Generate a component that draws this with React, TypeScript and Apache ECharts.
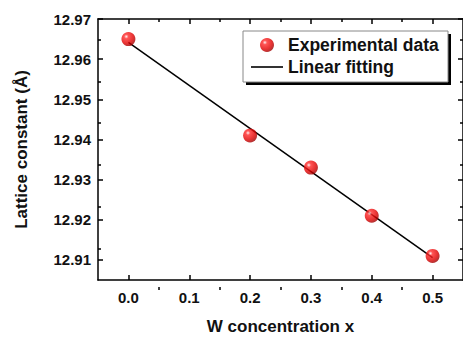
import React, { useEffect, useRef } from "react";
import * as echarts from "echarts";

// Measured lattice constants vs. W concentration
const concentration = [0.0, 0.2, 0.3, 0.4, 0.5];
const latticeConstant = [12.965, 12.941, 12.933, 12.921, 12.911];

// End points of the linear fit
const fitX = [0.0, 0.5];
const fitY = [12.9642, 12.9106];

// Tick positions
const xMajorTicks = [0.0, 0.1, 0.2, 0.3, 0.4, 0.5];
const xMinorTicks = [0.05, 0.15, 0.25, 0.35, 0.45];
const yMajorTicks = [12.91, 12.92, 12.93, 12.94, 12.95, 12.96, 12.97];
const yMinorTicks = [12.915, 12.925, 12.935, 12.945, 12.955, 12.965];

const FONT = "'Liberation Sans', Arial, Helvetica, sans-serif";
const X_MIN = -0.05;
const X_MAX = 0.55;
const Y_MIN = 12.905;
const Y_MAX = 12.97;

const sphere = new echarts.graphic.RadialGradient(0.35, 0.32, 0.7, [
  { offset: 0, color: "#fff0f0" },
  { offset: 0.22, color: "#ff2a2a" },
  { offset: 0.7, color: "#e00000" },
  { offset: 1, color: "#a00000" },
]);

export default function App() {
  const ref = useRef<HTMLDivElement>(null);

  useEffect(() => {
    if (!ref.current) return;
    const chart = echarts.init(ref.current, null, { renderer: "svg" });

    const lineOn = { show: true, onZero: false, lineStyle: { color: "#000", width: 1.5 } };
    const lineOff = { show: false, onZero: false };
    const gridRect = { left: 98, right: -2, top: 19, bottom: 50 };

    // "top"/"right" are set explicitly; bottom and left are the defaults
    const xAxis = (grid: number, top: boolean, ticks: number[], len: number, labels: boolean, line: boolean) => {
      const a: any = {
        type: "value",
        gridIndex: grid,
        min: X_MIN,
        max: X_MAX,
        splitLine: { show: false },
        axisLine: line ? lineOn : lineOff,
        axisTick: { show: true, inside: true, length: len, customValues: ticks, lineStyle: { color: "#000", width: 1.5 } },
        axisLabel: labels
          ? {
              show: true,
              customValues: ticks,
              formatter: (v: number) => v.toFixed(1),
              fontFamily: FONT,
              fontWeight: "bold",
              fontSize: 15,
              color: "#111",
              margin: 10,
            }
          : { show: false },
      };
      if (top) a.position = "top";
      return a;
    };

    const yAxis = (grid: number, right: boolean, ticks: number[], len: number, labels: boolean, line: boolean) => {
      const a: any = {
        type: "value",
        gridIndex: grid,
        min: Y_MIN,
        max: Y_MAX,
        splitLine: { show: false },
        axisLine: line ? lineOn : lineOff,
        axisTick: { show: true, inside: true, length: len, customValues: ticks, lineStyle: { color: "#000", width: 1.5 } },
        axisLabel: labels
          ? {
              show: true,
              customValues: ticks,
              formatter: (v: number) => v.toFixed(2),
              fontFamily: FONT,
              fontWeight: "bold",
              fontSize: 15,
              color: "#111",
              margin: 7,
            }
          : { show: false },
      };
      if (right) a.position = "right";
      return a;
    };

    const nameStyle = { fontFamily: FONT, fontWeight: "bold", fontSize: 17, color: "#111" };

    const xMain = xAxis(0, false, xMajorTicks, 5, true, true);
    xMain.name = "W concentration x";
    xMain.nameLocation = "middle";
    xMain.nameGap = 38;
    xMain.nameTextStyle = nameStyle;

    const yMain = yAxis(0, false, yMajorTicks, 5, true, true);
    yMain.name = "Lattice constant (Å)";
    yMain.nameLocation = "middle";
    yMain.nameGap = 68;
    yMain.nameTextStyle = nameStyle;

    chart.setOption({
      animation: false,
      // grid 0: frame, major ticks and data; grid 1: minor ticks only
      grid: [gridRect, gridRect],
      xAxis: [
        xMain,
        xAxis(0, true, xMajorTicks, 5, false, true),
        xAxis(1, false, xMinorTicks, 3, false, false),
        xAxis(1, true, xMinorTicks, 3, false, false),
      ],
      yAxis: [
        yMain,
        yAxis(0, true, yMajorTicks, 5, false, true),
        yAxis(1, false, yMinorTicks, 3, false, false),
        yAxis(1, true, yMinorTicks, 3, false, false),
      ],
      graphic: [
        {
          type: "rect",
          z: 1,
          shape: { x: 246, y: 34, width: 205, height: 51 },
          style: { fill: "#000" },
        },
        {
          type: "rect",
          z: 1,
          shape: { x: 243, y: 31, width: 205, height: 51 },
          style: { fill: "#fff", stroke: "#888", lineWidth: 1 },
        },
      ],
      legend: {
        orient: "vertical",
        left: 243,
        top: 31,
        padding: [5, 8, 5, 8],
        itemGap: 4,
        itemWidth: 32,
        itemHeight: 14,
        z: 5,
        textStyle: { fontFamily: FONT, fontWeight: "bold", fontSize: 17.5, color: "#111" },
        data: [
          { name: "Experimental data", icon: "circle" },
          { name: "Linear fitting", icon: "path://M0,0H32V1.6H0Z" },
        ],
      },
      series: [
        {
          name: "Linear fitting",
          type: "line",
          xAxisIndex: 0,
          yAxisIndex: 0,
          data: fitX.map((x, i) => [x, fitY[i]]),
          symbol: "none",
          lineStyle: { color: "#000", width: 1.5 },
          itemStyle: { color: "#000" },
          z: 3,
        },
        {
          name: "Experimental data",
          type: "scatter",
          xAxisIndex: 0,
          yAxisIndex: 0,
          data: concentration.map((x, i) => [x, latticeConstant[i]]),
          symbol: "circle",
          symbolSize: 14,
          itemStyle: { color: sphere },
          z: 4,
        },
      ],
    });

    return () => chart.dispose();
  }, []);

  return (
    <div
      ref={ref}
      style={{ position: "absolute", left: 0, top: 0, width: 463, height: 340, background: "#fff" }}
    />
  );
}
